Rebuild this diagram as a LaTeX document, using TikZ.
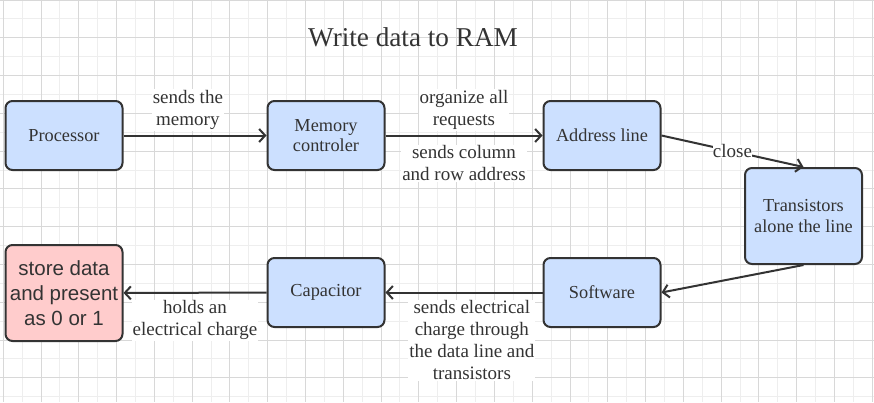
\documentclass[tikz,border=0pt]{standalone}
\usepackage{fontspec}
\setmainfont{Liberation Serif}
\newfontfamily\storefont{Liberation Sans}
\usetikzlibrary{arrows.meta, positioning}
\definecolor{box1}{RGB}{204,224,255}
\definecolor{pink1}{RGB}{255,204,204}
\definecolor{line1}{RGB}{51,51,51}
\definecolor{gridminor}{RGB}{238,238,238}
\definecolor{gridmajor}{RGB}{216,216,216}

\begin{document}
\begin{tikzpicture}[x=1pt, y=-1pt,
    block/.style={draw=line1, fill=box1, line width=2pt, rounded corners=7pt, minimum width=117pt, minimum height=69pt, align=center, text=line1, font=\fontsize{18.3}{20.7}\selectfont},
    tallblock/.style={block, minimum height=96pt},
    result/.style={tallblock, fill=pink1, font=\storefont\fontsize{20.5}{25}\selectfont},
    flow/.style={-{Straight Barb[length=6pt,width=13pt]}, line width=2pt, draw=line1},
    lbl/.style={fill=white, inner sep=1pt, align=center, text=line1, font=\fontsize{19}{22}\selectfont},
    title/.style={text=line1, font=\fontsize{27.2}{30}\selectfont}
]

        % background grid
        \useasboundingbox (0,0) rectangle (874,402);
        \fill[white] (0,0) rectangle (874,402);
        \foreach \i in {0,...,46}
            \draw[gridminor, line width=1pt] ({3.3+18.89*\i},0) -- ({3.3+18.89*\i},402);
        \foreach \j in {0,...,21}
            \draw[gridminor, line width=1pt] (0,{18.89*\j}) -- (874,{18.89*\j});
        \foreach \i in {0,...,23}
            \draw[gridmajor, line width=1pt] ({3.3+37.78*\i},0) -- ({3.3+37.78*\i},402);
        \foreach \j in {0,...,10}
            \draw[gridmajor, line width=1pt] (0,{37.78*\j}) -- (874,{37.78*\j});

        \node[title, name=title] at(413,37) {Write data to RAM};

        \node[block, name=proc] at(64,135.5) {Processor};
        \node[block, name=memctl] at(326,135.5) {Memory\\controler};
        \node[block, name=addr] at(602,135.5) {Address line};
        \node[tallblock, name=trans] at(803.5,216) {Transistors\\alone the line};
        \node[block, name=soft] at(602,292.5) {Software};
        \node[block, name=cap] at(326,292.5) {Capacitor};
        \node[result, name=store] at(64,293) {store data\\and present\\as 0 or 1};

        \draw[flow] (proc) -- node[lbl, above=4pt, pos=0.45] {sends the\\memory} (memctl);
        \draw[flow] (memctl) -- node[lbl, above=4pt] {organize all\\requests}
                               node[lbl, below=8pt] {sends column\\and row address} (addr);
        \draw[flow] (addr.east) -- node[lbl, inner sep=0pt] {close} (trans.north);
        \draw[flow] (trans.south) -- (soft.east);
        \draw[flow] (soft) -- node[lbl, below=6pt, pos=0.45] {sends electrical\\charge through\\the data line and\\transistors} (cap);
        \draw[flow] (cap) -- node[lbl, below=6pt] {holds an\\electrical charge} (store);

\end{tikzpicture}
\end{document}
